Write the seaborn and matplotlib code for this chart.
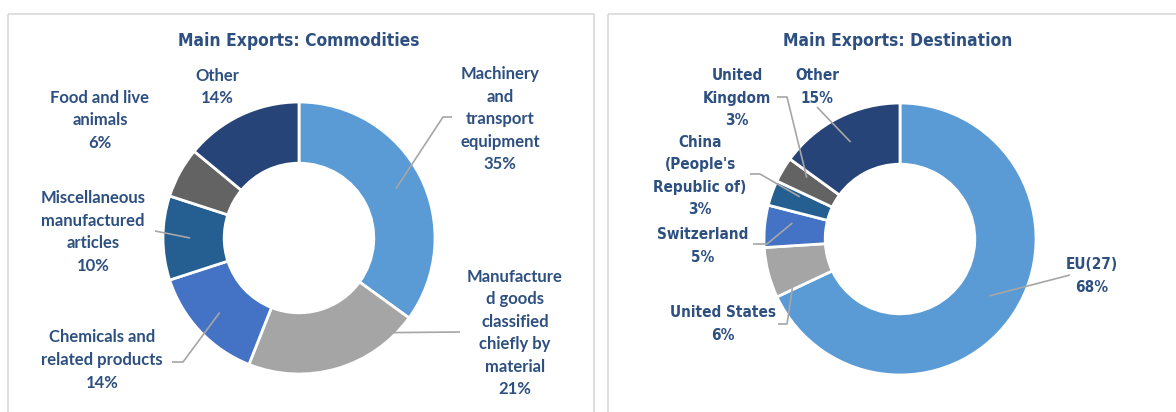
import numpy as np
import pandas as pd
import seaborn as sns
import matplotlib
matplotlib.use("Agg")
import matplotlib.pyplot as plt
from matplotlib.patches import Rectangle

# ---------------- data ----------------
commodity_names = ["Machinery\nand\ntransport\nequipment",
                   "Manufacture\nd goods\nclassified\nchiefly by\nmaterial",
                   "Chemicals and\nrelated products",
                   "Miscellaneous\nmanufactured\narticles",
                   "Food and live\nanimals",
                   "Other"]
commodity_values = [35, 21, 14, 10, 6, 14]

destination_names = ["EU(27)", "United States", "Switzerland",
                     "China\n(People's\nRepublic of)", "United\nKingdom", "Other"]
destination_values = [68, 6, 5, 3, 3, 15]

titles = ["Main Exports: Commodities", "Main Exports: Destination"]

# ---------------- style ----------------
sns.set_theme(style="white")
NARROW = ["DejaVu Sans"]
ROUND = ["Lato", "DejaVu Sans"]
plt.rcParams["font.family"] = NARROW

palette = sns.color_palette(["#5B9BD5", "#A5A5A5", "#4472C4", "#255E91", "#636363", "#264478"])
TXT = "#2d5081"
LEAD = "#a6a6a6"

W, H = 1176, 412
fig = plt.figure(figsize=(W / 100, H / 100), dpi=100)
fig.patch.set_facecolor("white")

ov = fig.add_axes([0, 0, 1, 1], zorder=5)
ov.set_xlim(0, W)
ov.set_ylim(H, 0)
ov.axis("off")
ov.patch.set_alpha(0)

# panel frames
for x0, x1 in [(8, 594), (608, 1190)]:
    ov.add_patch(Rectangle((x0, 14), x1 - x0, 420, fill=False, edgecolor="#d9d9d9", lw=1.2))

# layout (pixels): center, radius, title position, label positions, leaders
charts = [
    dict(names=commodity_names, values=commodity_values, title=titles[0],
         center=(299, 238), R=136, title_xy=(299, 41), family=ROUND, fs=12,
         stretch="normal", ls=1.5,
         label_xy=[(500, 119), (515, 333), (102, 360), (93, 232), (100, 120), (217, 87)],
         leaders=[(0.5, 0.8, [(443, 117), (452, 117)]),
                  (0.13, 0.97, [(460, 332)]),
                  (0.5, 0.8, [(183, 362), (172, 362)]),
                  (0.5, 0.8, [(155, 231)]),
                  None, None]),
    dict(names=destination_names, values=destination_values, title=titles[1],
         center=(900, 239), R=136, title_xy=(898, 41), family=NARROW, fs=11,
         stretch="condensed", ls=1.62,
         label_xy=[(1092, 276), (723, 324), (703, 246), (700, 176), (737, 98), (817, 87)],
         leaders=[(0.5, 0.78, [(1070, 275)]),
                  (0.03, 0.87, [(787, 324), (778, 324)]),
                  (0.67, 0.8, [(767, 244), (753, 244)]),
                  (0.78, 0.8, [(760, 174), (750, 174)]),
                  (0.75, 0.82, [(787, 97), (777, 97)]),
                  (0.5, 0.8, [(817, 107)])]),
]

for ch in charts:
    cx, cy = ch["center"]
    R = ch["R"]
    ax = fig.add_axes([(cx - R) / W, (H - cy - R) / H, 2 * R / W, 2 * R / H])
    wedges, _ = ax.pie(ch["values"], radius=1, startangle=90, counterclock=False,
                       colors=palette,
                       wedgeprops=dict(width=0.45, edgecolor="white", linewidth=2))
    ax.set_xlim(-1, 1)
    ax.set_ylim(-1, 1)
    ax.set_aspect("equal")
    ax.axis("off")

    ov.text(ch["title_xy"][0], ch["title_xy"][1], ch["title"], ha="center", va="center",
            fontsize=12.5, fontweight="bold", color=TXT, family=NARROW,
            fontstretch="condensed")

    for w, name, val, (tx, ty), ld in zip(wedges, ch["names"], ch["values"],
                                          ch["label_xy"], ch["leaders"]):
        ov.text(tx, ty, f"{name}\n{val}%", ha="center", va="center",
                fontsize=ch["fs"], fontweight="bold", color=TXT,
                family=ch["family"], fontstretch=ch["stretch"],
                linespacing=ch["ls"])
        if ld is None:
            continue
        f, rf, pts = ld
        ang = np.deg2rad(w.theta2 - f * (w.theta2 - w.theta1))
        ax_x = cx + R * rf * np.cos(ang)
        ax_y = cy - R * rf * np.sin(ang)
        xs = [ax_x] + [p[0] for p in pts]
        ys = [ax_y] + [p[1] for p in pts]
        ov.plot(xs, ys, color=LEAD, lw=1.2, solid_capstyle="butt")

fig.savefig("out.png", dpi=100, facecolor="white")
